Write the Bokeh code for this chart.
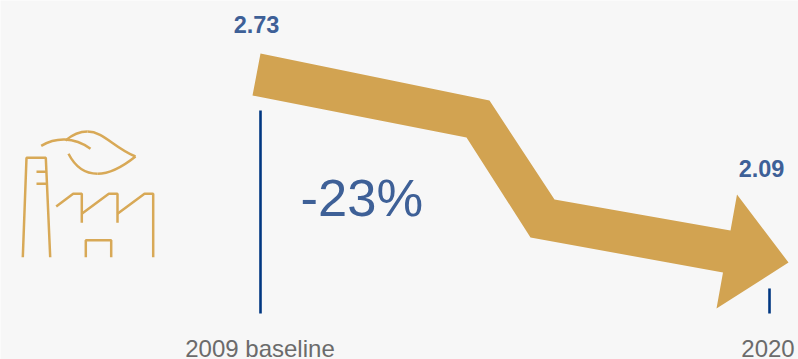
from bokeh.embed import file_html
from bokeh.models import Range1d
from bokeh.plotting import figure
from bokeh.resources import INLINE
from bokeh.core.properties import value

# Emission intensity figures
years = [2009, 2020]
intensity = [2.73, 2.09]
axis_floor = 2.0
year_labels = ["2009 baseline", "2020"]
value_labels = ["2.73", "2.09"]
change_label = "-23%"

# Outline of the falling arrow
arrow_x = [260, 489, 554, 730, 736.5, 788, 716, 722.5, 530, 466, 252]
arrow_y = [53, 100, 199, 230, 194, 262, 308, 272, 237, 137, 95]

# Factory icon: straight strokes
icon_x = [
    [22.3, 26, 45.3, 49.7],
    [36, 45.7],
    [36, 45.7],
    [55.7, 72.7, 81.3, 81.3],
    [81.3, 108.3, 117, 117],
    [117, 144, 152.7, 152.7],
    [85.3, 85.3, 110.7, 110.7],
]
icon_y = [
    [256.7, 157.3, 157.3, 256.7],
    [171.3, 171.3],
    [183.3, 183.3],
    [206, 193.3, 193.3, 222.3],
    [213.3, 193.3, 193.3, 222.3],
    [213.3, 193.3, 193.3, 256.7],
    [256.7, 239.7, 239.7, 256.7],
]

# Leaf on the icon: stem, upper edge and lower edge as cubic curves
leaf_x0 = [40.7, 65, 87, 135, 97]
leaf_y0 = [145.3, 140, 131, 156, 173.3]
leaf_x1 = [90, 87, 135, 97, 68]
leaf_y1 = [148.3, 131, 156, 173.3, 153.3]
leaf_cx0 = [55, 72, 103, 120, 84]
leaf_cy0 = [137, 134, 131, 168, 173.3]
leaf_cx1 = [73, 79, 113, 107, 74]
leaf_cy1 = [136, 131, 147, 173.3, 165]

BG = "#F7F7F7"
GOLD = "#D2A351"
ICON = "#D8A957"
NAVY = "#003781"
BLUE = "#3E6097"
GREY = "#6B6B6B"
FONT = value("Liberation Sans")

W, H = 798, 359
px_per_year = (769 - 260) / (years[1] - years[0])
px_per_unit = (313 - 110) / (intensity[0] - axis_floor)

p = figure(
    width=W,
    height=H,
    x_range=Range1d(years[0] - 260 / px_per_year, years[0] + (W - 260) / px_per_year),
    y_range=Range1d(axis_floor - (H - 313) / px_per_unit, axis_floor + 313 / px_per_unit),
    output_backend="svg",
    toolbar_location=None,
    min_border=0,
    outline_line_color=None,
    background_fill_color=BG,
    border_fill_color=BG,
    x_axis_type=None,
    y_axis_type=None,
)
p.grid.visible = False

# Drawing space for the schematic shapes and the text
p.extra_x_ranges = {"page": Range1d(0, W)}
p.extra_y_ranges = {"page": Range1d(H, 0)}
page = dict(x_range_name="page", y_range_name="page")

# Value stems rising from the truncated floor
p.segment(x0=years, y0=[axis_floor] * 2, x1=years, y1=intensity,
          line_color=NAVY, line_width=2.6)

p.patch(arrow_x, arrow_y, fill_color=GOLD, line_color=None, **page)

p.multi_line(icon_x, icon_y, line_color=ICON, line_width=2.5, **page)
p.bezier(x0=leaf_x0, y0=leaf_y0, x1=leaf_x1, y1=leaf_y1,
         cx0=leaf_cx0, cy0=leaf_cy0, cx1=leaf_cx1, cy1=leaf_cy1,
         line_color=ICON, line_width=2.5, **page)

p.text(x=[256, 761], y=[23.5, 168], text=value_labels, text_font=FONT,
       text_font_size="23.5px", text_font_style="bold", text_color=BLUE,
       text_align="center", text_baseline="middle", **page)
p.text(x=[300], y=[197], text=[change_label], text_font=FONT,
       text_font_size="52.5px", text_color=BLUE,
       text_align="left", text_baseline="middle", **page)
p.text(x=[259.5, 767.5], y=[348, 348], text=year_labels, text_font=FONT,
       text_font_size="24px", text_color=GREY,
       text_align="center", text_baseline="middle", **page)

open("out.html", "w").write(file_html(p, INLINE))
